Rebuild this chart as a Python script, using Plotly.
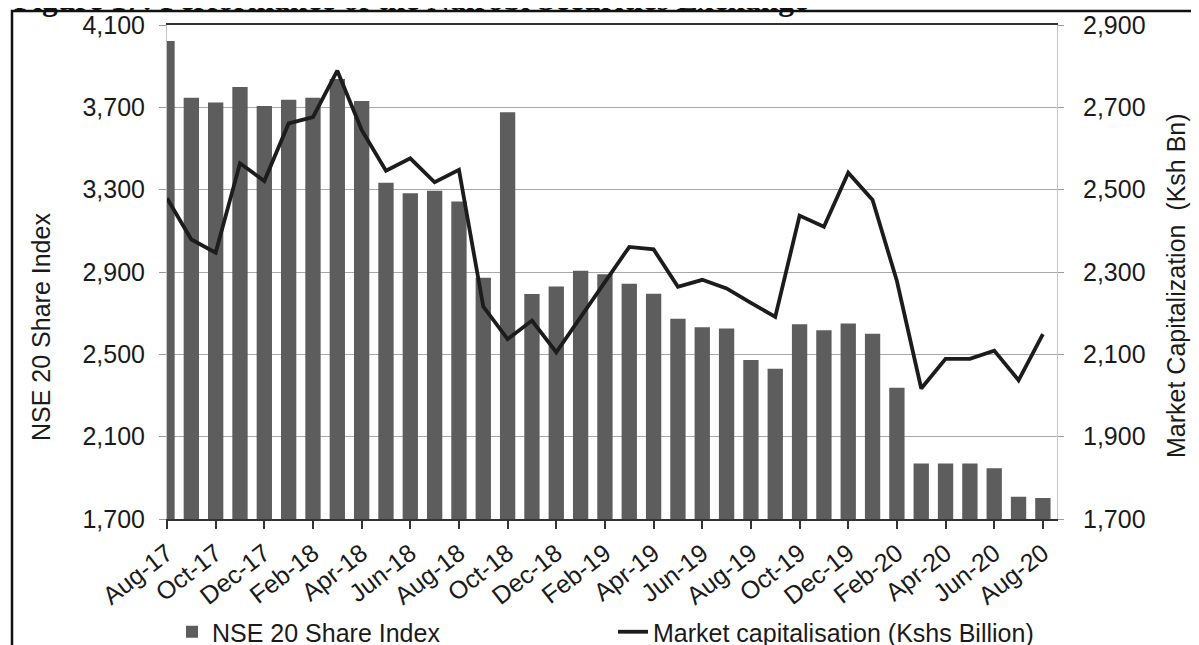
import plotly.graph_objects as go

# ---- data ----
months = ["Aug-17", "Sep-17", "Oct-17", "Nov-17", "Dec-17", "Jan-18", "Feb-18", "Mar-18",
          "Apr-18", "May-18", "Jun-18", "Jul-18", "Aug-18", "Sep-18", "Oct-18", "Nov-18",
          "Dec-18", "Jan-19", "Feb-19", "Mar-19", "Apr-19", "May-19", "Jun-19", "Jul-19",
          "Aug-19", "Sep-19", "Oct-19", "Nov-19", "Dec-19", "Jan-20", "Feb-20", "Mar-20",
          "Apr-20", "May-20", "Jun-20", "Jul-20", "Aug-20"]

nse20_index = [4022, 3747, 3724, 3799, 3706, 3737, 3747, 3838, 3731, 3334, 3282, 3295,
               3242, 2872, 3676, 2793, 2830, 2906, 2889, 2843, 2794, 2673, 2632, 2626,
               2472, 2430, 2646, 2617, 2650, 2600, 2338, 1970, 1970, 1970, 1946, 1808, 1802]

market_cap = [2479, 2379, 2347, 2564, 2521, 2661, 2676, 2789, 2645, 2546, 2576, 2518,
              2548, 2216, 2137, 2182, 2105, 2190, 2276, 2361, 2355, 2264, 2281, 2260,
              2225, 2191, 2437, 2410, 2541, 2475, 2278, 2017, 2089, 2089, 2109, 2037, 2149]

left_ticks = [1700, 2100, 2500, 2900, 3300, 3700, 4100]
right_ticks = [1700, 1900, 2100, 2300, 2500, 2700, 2900]
tick_every = 2

title_text = "Figure 17: Performance of the Nairobi Securities Exchange"
left_title = "NSE 20 Share Index"
right_title = "Market Capitalization\u00a0 (Ksh Bn)"
bar_name = "NSE 20 Share Index"
line_name = "Market capitalisation (Kshs Billion)"

# ---- layout geometry: page pixels, the page body has an 8px margin ----
OFF = 8
W, H = 1199 - OFF, 645 - OFF
PL, PR, PT, PB = 167 - OFF, 1057 - OFF, 25 - OFF, 519 - OFF


def px2x(page_px):
    return (page_px - OFF - PL) / (PR - PL)


def px2y(page_py):
    return (PB - (page_py - OFF)) / (PB - PT)


FONT = "Liberation Sans, Arial, sans-serif"
TXT = "#1a1a1a"

idx = list(range(len(months)))

fig = go.Figure()
fig.add_trace(go.Bar(
    x=idx, y=nse20_index, name=bar_name, width=0.63,
    marker=dict(color="#5d5d5d", line=dict(width=0)),
    legend="legend", yaxis="y",
))
fig.add_trace(go.Scatter(
    x=idx, y=market_cap, name=line_name, mode="lines",
    line=dict(color="#1c1c1c", width=3.8),
    legend="legend2", yaxis="y2",
))

fig.update_layout(
    width=W, height=H,
    margin=dict(l=PL, r=W - PR, t=PT, b=H - PB, pad=0, autoexpand=False),
    paper_bgcolor="white", plot_bgcolor="white",
    font=dict(family=FONT, size=25, color=TXT),
    xaxis=dict(
        range=[0, (PR - PL) / 24.33],
        tickmode="array",
        tickvals=idx[::tick_every],
        ticktext=months[::tick_every],
        tickangle=-38,
        ticks="outside", ticklen=8, tickwidth=1.5, tickcolor="#333",
        showline=True, linecolor="#333", linewidth=1.5, mirror=True,
        showgrid=False, zeroline=False, automargin=False,
        tickfont=dict(family=FONT, size=25, color=TXT),
    ),
    yaxis=dict(
        range=[left_ticks[0], left_ticks[-1]],
        tickmode="array", tickvals=left_ticks,
        tickformat=",",
        ticks="outside", ticklen=7, tickcolor="#9a9a9a",
        showline=True, linecolor="#c4c4c4", linewidth=1,
        showgrid=True, gridcolor="#a8a8a8", gridwidth=1,
        zeroline=False, automargin=False,
        ticklabelstandoff=9,
        tickfont=dict(family=FONT, size=25, color=TXT),
    ),
    yaxis2=dict(
        range=[right_ticks[0], right_ticks[-1]],
        overlaying="y", side="right",
        tickmode="array", tickvals=right_ticks,
        tickformat=",",
        ticks="outside", ticklen=6, tickcolor="#9a9a9a",
        showline=True, linecolor="#c4c4c4", linewidth=1,
        showgrid=False, zeroline=False, automargin=False,
        ticklabelstandoff=14,
        tickfont=dict(family=FONT, size=25, color=TXT),
    ),
    legend=dict(
        x=px2x(172), y=px2y(632), xanchor="left", yanchor="middle",
        orientation="h", bgcolor="rgba(0,0,0,0)", borderwidth=0,
        font=dict(family=FONT, size=25, color=TXT),
    ),
    legend2=dict(
        x=px2x(613), y=px2y(632), xanchor="left", yanchor="middle",
        orientation="h", bgcolor="rgba(0,0,0,0)", borderwidth=0,
        font=dict(family=FONT, size=25, color=TXT),
    ),
    showlegend=True,
)

fig.add_annotation(
    text="<b>" + title_text + "</b>", xref="paper", yref="paper",
    x=px2x(12), y=px2y(-1), xanchor="left", yanchor="middle", showarrow=False,
    font=dict(family="Liberation Serif, Times New Roman, serif", size=31.5, color="#111"),
)
fig.add_annotation(
    text=left_title, xref="paper", yref="paper", textangle=-90,
    x=px2x(41), y=px2y(327), xanchor="center", yanchor="middle", showarrow=False,
    font=dict(family=FONT, size=25, color=TXT),
)
fig.add_annotation(
    text=right_title, xref="paper", yref="paper", textangle=-90,
    x=px2x(1176), y=px2y(286), xanchor="center", yanchor="middle", showarrow=False,
    font=dict(family=FONT, size=25, color=TXT),
)

# outer frame of the figure (partly cropped in the reference)
fig.add_shape(
    type="rect", xref="paper", yref="paper",
    x0=px2x(12), x1=px2x(1215), y0=px2y(670), y1=px2y(11),
    line=dict(color="#111", width=2.5), fillcolor="rgba(0,0,0,0)", layer="above",
)

fig.write_html("out.html")
